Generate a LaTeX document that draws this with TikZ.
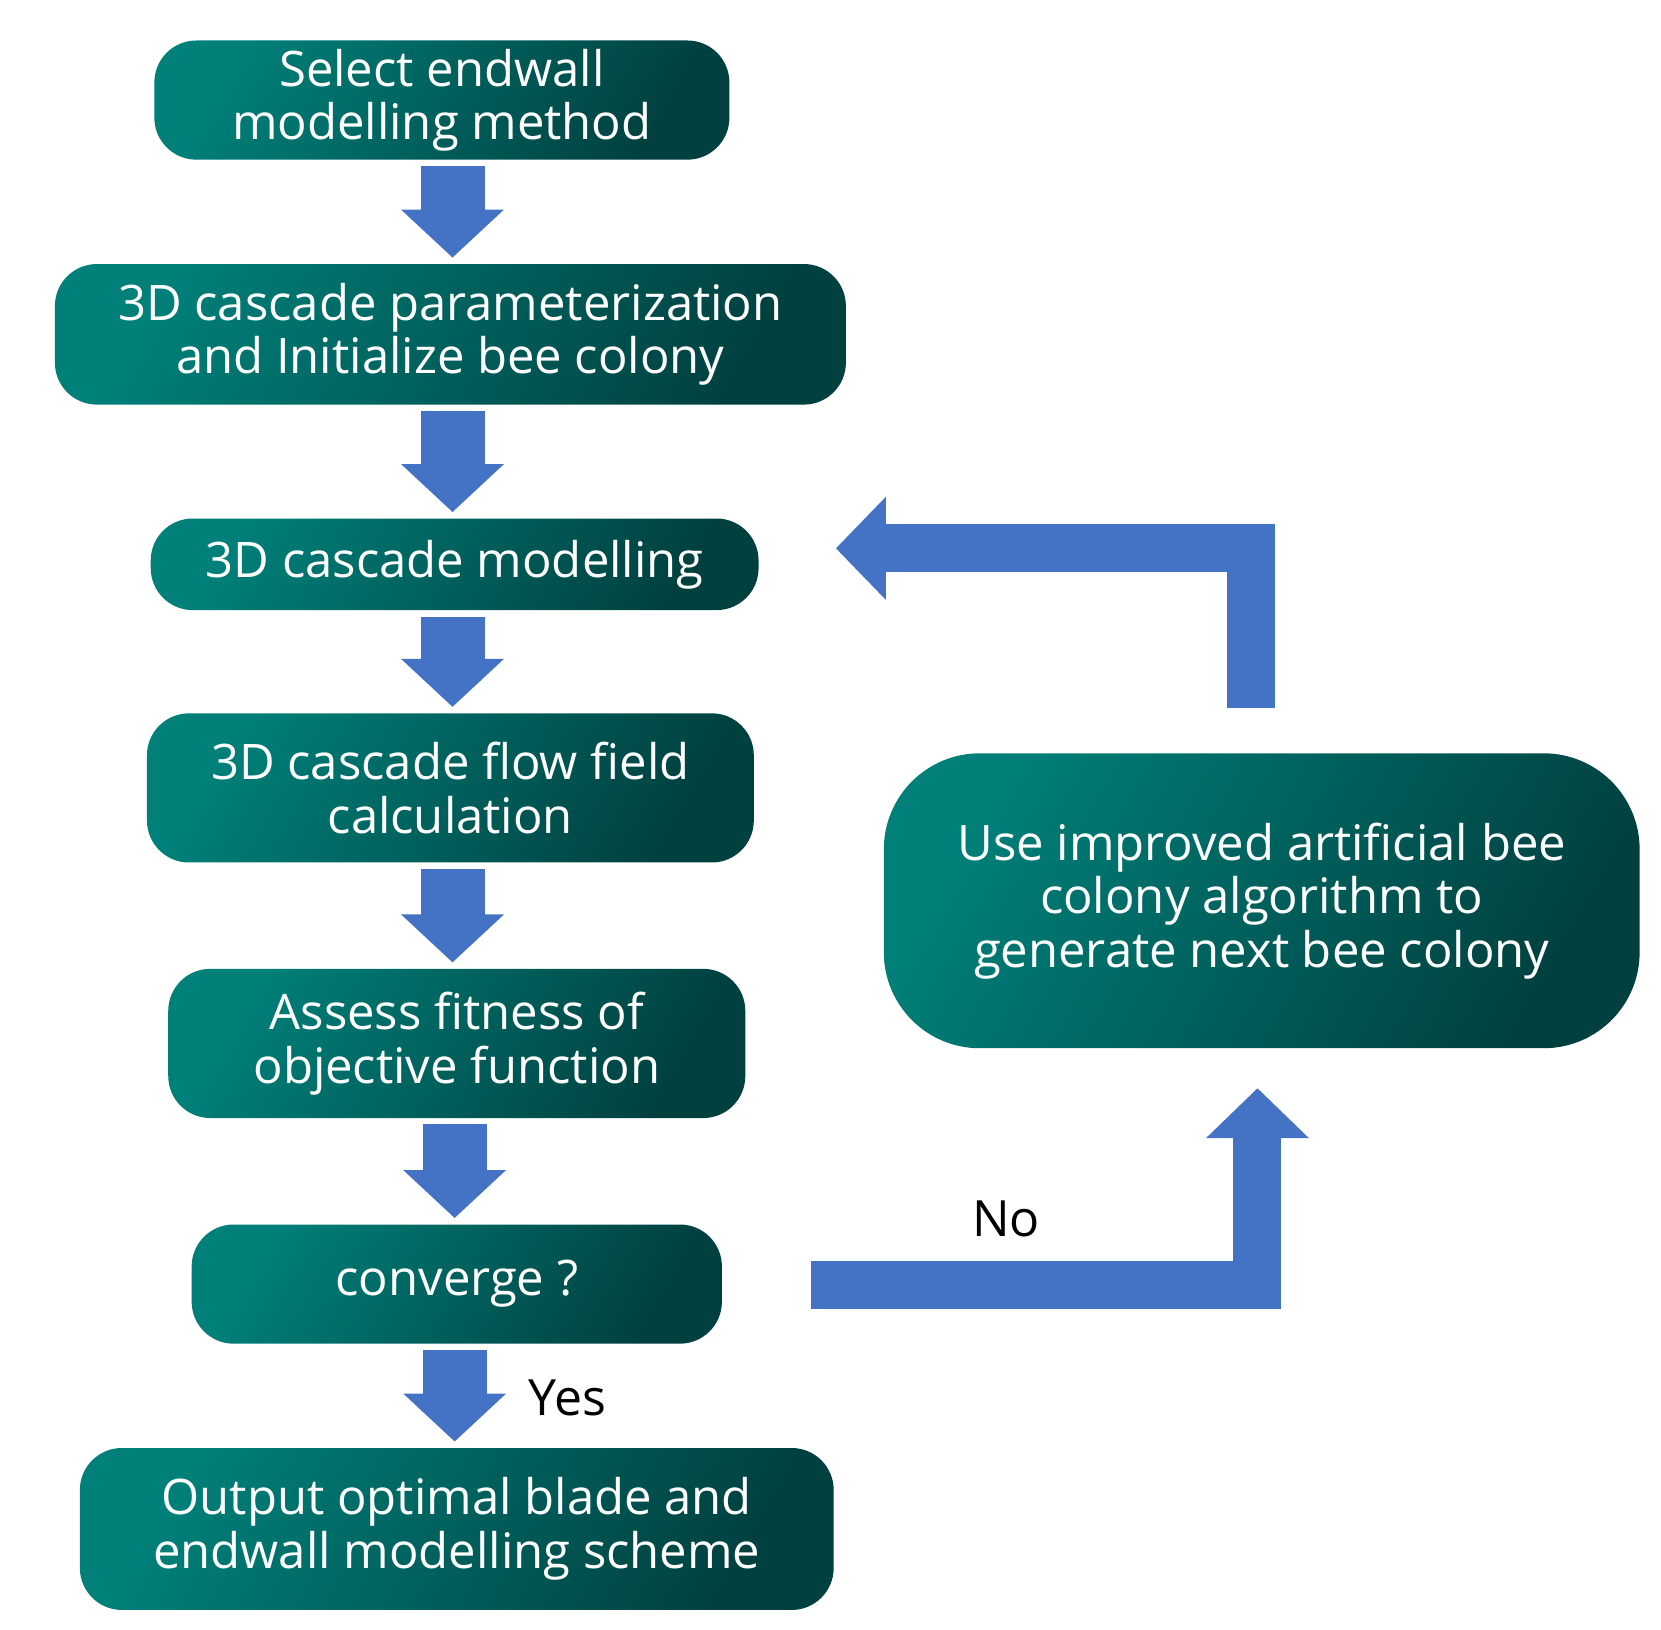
\documentclass[tikz,border=0pt]{standalone}
\usepackage{fontspec}
\setmainfont{Open Sans}
\usetikzlibrary{arrows.meta}
\definecolor{tealA}{HTML}{008079}
\definecolor{tealB}{HTML}{00403F}
\definecolor{arr}{HTML}{4472C4}
\begin{document}
\begin{tikzpicture}[x=0.5325pt,y=-0.5325pt,
  box/.style={rounded corners=21pt,shading=axis,top color=tealA,bottom color=tealB,shading angle=60,
    text=white,align=center,font=\fontsize{24.5}{26.8}\selectfont,inner sep=0pt},
  dn/.style={draw=arr,line width=32pt,-{Triangle[width=50pt,length=24pt]},shorten <=3pt,shorten >=3pt},
  big/.style={draw=arr,line width=24pt,miter limit=10},
  lbl/.style={font=\fontsize{25}{28}\selectfont,text=black}]
\useasboundingbox (0,0) rectangle (1560,1530);
\node[box,minimum width=287.6pt,minimum height=59.6pt] (b1) at (415,94) {Select endwall\\modelling method};
\node[box,minimum width=395.6pt,minimum height=70.3pt] (b2) at (423,314) {3D cascade parameterization\\and Initialize bee colony};
\node[box,minimum width=304pt,minimum height=45.8pt] (b3) at (427,530) {3D cascade modelling};
\node[box,minimum width=303.5pt,minimum height=74.6pt] (b4) at (423,740) {3D cascade flow field\\calculation};
\node[box,minimum width=288.6pt,minimum height=74.6pt] (b5) at (429,980) {Assess fitness of\\objective function};
\node[box,minimum width=265.2pt,minimum height=59.6pt] (b6) at (429,1206) {converge ?};
\node[box,minimum width=377pt,minimum height=81pt] (b7) at (429,1436) {Output optimal blade and\\endwall modelling scheme};
\node[box,rounded corners=48pt,minimum width=378pt,minimum height=147.5pt] (b8) at (1185,846) {Use improved artificial bee\\colony algorithm to\\generate next bee colony};
\draw[dn] (b1.south -| 425,0) -- (b2.north -| 425,0);
\draw[dn] (b2.south -| 425,0) -- (b3.north -| 425,0);
\draw[dn] (b3.south -| 425,0) -- (b4.north -| 425,0);
\draw[dn] (b4.south -| 425,0) -- (b5.north -| 425,0);
\draw[dn] (b5.south -| 427,0) -- (b6.north -| 427,0);
\draw[dn] (b6.south -| 427,0) -- (b7.north -| 427,0);
\coordinate (n0) at (762,1207);
\coordinate (n1) at (1181,1207);
\coordinate (n2) at (1181,1022);
\coordinate (u0) at (1175,665);
\coordinate (u1) at (1175,515);
\coordinate (u2) at (785,515);
\draw[big,-{Triangle[width=50pt,length=25pt]}] (n0) -- (n1) -- (n2);
\draw[big,-{Triangle[width=50pt,length=25pt]}] (u0) -- (u1) -- (u2);
\node[lbl] at (945,1145) {No};
\node[lbl] at (533,1313) {Yes};
\end{tikzpicture}
\end{document}
